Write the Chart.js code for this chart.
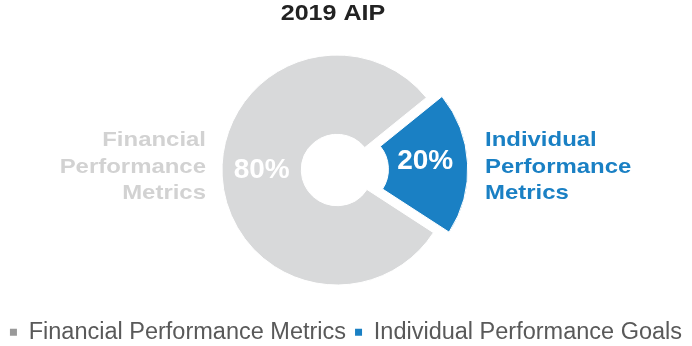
<!DOCTYPE html>
<html>
<head>
<meta charset="utf-8">
<script src="https://cdn.jsdelivr.net/npm/chart.js@4/dist/chart.umd.min.js"></script>
<style>
  html, body { margin: 0; padding: 0; background: #fff; }
  #wrap { width: 692px; height: 346px; }
</style>
</head>
<body>
<div id="wrap"><canvas id="aipChart"></canvas></div>
<script>
  // 2019 AIP weighting
  const chartTitle = "2019 AIP";
  const legendLabels = ["Financial Performance Metrics", "Individual Performance Goals"];
  const sliceLabels = [["Financial", "Performance", "Metrics"], ["Individual", "Performance", "Metrics"]];
  const weights = [80, 20];

  const sliceColors = ["#d8d9da", "#1a80c4"];
  const sideLabelColors = ["#d2d2d2", "#1a80c4"];
  const legendMarkerColors = ["#999999", "#1a80c4"];
  const FONT = "'Liberation Sans', Arial, sans-serif";
  const WIDEN = 1.14; // text in this graphic is set a bit wide

  // pin the ring centre
  const ringArea = {
    id: "ringArea",
    afterLayout(chart) {
      const cx = 337, cy = 170;
      const a = chart.chartArea;
      a.left = cx - 150; a.right = cx + 150;
      a.top = cy - 140; a.bottom = cy + 140;
      a.width = 300; a.height = 280;
    },
  };

  function wideText(ctx, text, x, y, align) {
    const w = ctx.measureText(text).width * WIDEN;
    let left = x;
    if (align === "center") left = x - w / 2;
    else if (align === "right") left = x - w;
    ctx.save();
    ctx.translate(left, y);
    ctx.scale(WIDEN, 1);
    ctx.textAlign = "left";
    ctx.fillText(text, 0, 0);
    ctx.restore();
  }

  // title, percentages inside the slices and the wrapped names beside them
  const sliceText = {
    id: "sliceText",
    afterDatasetsDraw(chart) {
      const ctx = chart.ctx;
      const meta = chart.getDatasetMeta(0);
      ctx.save();
      ctx.textBaseline = "alphabetic";
      ctx.fillStyle = "#222222";
      ctx.font = "bold 22px " + FONT;
      wideText(ctx, chartTitle, 333, 20, "center");

      meta.data.forEach((arc, i) => {
        const p = arc.getProps(["x", "y", "startAngle", "endAngle", "innerRadius", "outerRadius"]);
        // ArcElement moves an exploded slice by a quarter of its offset
        const off = (arc.options.offset || 0) / 4;
        const mid = (p.startAngle + p.endAngle) / 2;
        const r = (p.innerRadius + p.outerRadius) / 2 + off;
        ctx.fillStyle = "#ffffff";
        ctx.font = "bold 28px " + FONT;
        ctx.save();
        ctx.textAlign = "center";
        ctx.textBaseline = "middle";
        ctx.fillText(weights[i] + "%", p.x + Math.cos(mid) * r - (i ? 2 : 0), p.y + Math.sin(mid) * r - 4);
        ctx.restore();

        // side names
        ctx.font = "bold 21px " + FONT;
        ctx.fillStyle = sideLabelColors[i];
        const lines = sliceLabels[i];
        const lh = 26.5;
        const y0 = p.y - 24;
        let x, align;
        if (Math.cos(mid) < 0) {
          align = "right";
          x = p.x - p.outerRadius - 16;
        } else {
          align = "left";
          x = p.x + p.outerRadius + off + 18;
        }
        lines.forEach((t, k) => wideText(ctx, t, x, y0 + k * lh, align));
      });
      ctx.restore();
    },
  };

  const ctx = document.getElementById("aipChart").getContext("2d");
  const aipChart = new Chart(ctx, {
    type: "doughnut",
    data: {
      labels: legendLabels,
      datasets: [
        {
          data: weights,
          backgroundColor: sliceColors,
          borderColor: "#fff",
          borderWidth: 1,
          offset: [0, 60],
          hoverOffset: 0,
        },
      ],
    },
    options: {
      responsive: true,
      maintainAspectRatio: false,
      animation: false,
      rotation: 123,
      radius: 115,
      cutout: 34,
      layout: { padding: { top: 30, bottom: -8 } },
      plugins: {
        title: { display: false },
        legend: {
          position: "bottom",
          labels: {
            color: "#595959",
            font: { family: FONT, size: 23.5 },
            usePointStyle: true,
            pointStyle: "rect",
            boxWidth: 7,
            boxHeight: 7,
            padding: 9,
            generateLabels(chart) {
              return legendLabels.map((t, i) => ({
                text: t,
                fillStyle: legendMarkerColors[i],
                strokeStyle: legendMarkerColors[i],
                lineWidth: 0,
                pointStyle: "rect",
                hidden: false,
                index: i,
                fontColor: "#595959",
              }));
            },
          },
        },
        tooltip: { enabled: false },
      },
    },
    plugins: [ringArea, sliceText],
  });
</script>
</body>
</html>
